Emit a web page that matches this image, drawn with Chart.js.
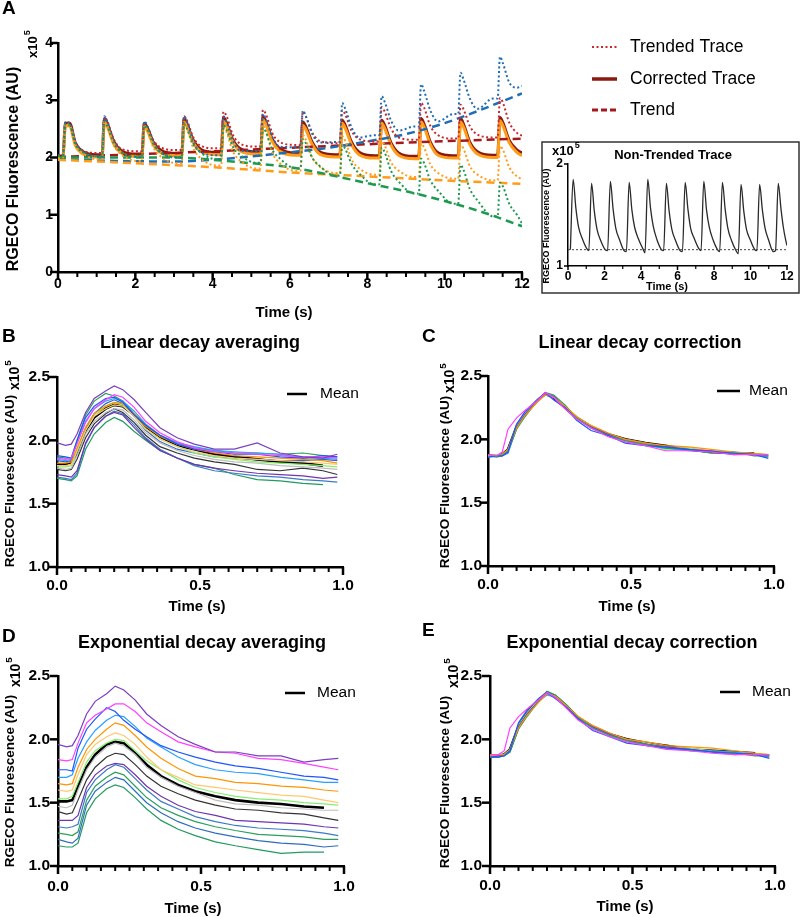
<!DOCTYPE html>
<html>
<head>
<meta charset="utf-8">
<script src="https://cdn.jsdelivr.net/npm/chart.js@4.4.1/dist/chart.umd.min.js"></script>
<style>
  html, body { margin: 0; padding: 0; background: #fff; }
  #fig { position: relative; width: 800px; height: 917px; overflow: hidden; }
  canvas { position: absolute; }
</style>
</head>
<body>
<div id="fig">
  <canvas id="chartA"></canvas>
  <canvas id="chartInset"></canvas>
  <canvas id="chartB"></canvas>
  <canvas id="chartC"></canvas>
  <canvas id="chartD"></canvas>
  <canvas id="chartE"></canvas>
</div>
<script>
// ---------- Panel A: 12 s recording, values x10^5 ----------
const timeA = [0.00,
  0.13,0.19,0.30,0.45,0.65,1.00,   1.14,1.20,1.28,1.44,1.64,2.04,
  2.17,2.23,2.31,2.47,2.67,3.07,   3.20,3.26,3.34,3.50,3.70,4.10,
  4.22,4.28,4.36,4.52,4.72,5.12,   5.24,5.30,5.38,5.54,5.74,6.14,
  6.27,6.33,6.41,6.57,6.77,7.17,   7.29,7.35,7.43,7.59,7.79,8.19,
  8.31,8.37,8.45,8.61,8.81,9.21,   9.33,9.39,9.47,9.63,9.83,10.23,
  10.35,10.41,10.49,10.65,10.85,11.25, 11.37,11.43,11.51,11.67,11.87,12.00];

const trendedBlue = [2.03,
  2.04,2.62,2.60,2.26,2.11,2.02, 2.02,2.72,2.62,2.29,2.10,2.01,
  2.01,2.63,2.55,2.25,2.08,2.00, 2.00,2.72,2.62,2.27,2.09,2.04,
  2.04,2.72,2.62,2.30,2.12,2.11, 2.11,2.76,2.66,2.36,2.19,2.18,
  2.18,2.82,2.72,2.42,2.26,2.27, 2.27,2.95,2.85,2.53,2.35,2.39,
  2.39,3.07,2.97,2.65,2.47,2.54, 2.54,3.28,3.16,2.82,2.63,2.76,
  2.76,3.48,3.36,3.03,2.85,3.03, 3.03,3.76,3.64,3.31,3.22,3.25];
const trendedRed = [2.04,
  2.05,2.62,2.60,2.27,2.12,2.08, 2.08,2.70,2.62,2.32,2.15,2.11,
  2.11,2.62,2.54,2.30,2.17,2.13, 2.13,2.72,2.64,2.35,2.20,2.16,
  2.16,2.80,2.72,2.40,2.24,2.19, 2.19,2.83,2.75,2.43,2.27,2.22,
  2.22,2.80,2.72,2.44,2.29,2.25, 2.25,2.83,2.75,2.47,2.32,2.28,
  2.28,2.88,2.80,2.51,2.35,2.31, 2.31,2.95,2.87,2.55,2.39,2.33,
  2.33,2.92,2.84,2.55,2.40,2.35, 2.35,3.04,2.95,2.61,2.43,2.38];
const trendedOrange = [1.99,
  2.00,2.58,2.56,2.22,2.07,1.97, 1.97,2.62,2.54,2.22,2.05,1.94,
  1.94,2.55,2.47,2.17,2.01,1.90, 1.90,2.58,2.50,2.16,1.98,1.86,
  1.86,2.52,2.44,2.11,1.94,1.81, 1.81,2.55,2.46,2.09,1.90,1.77,
  1.77,2.39,2.31,2.01,1.84,1.73, 1.73,2.37,2.29,1.97,1.81,1.70,
  1.70,2.28,2.21,1.92,1.77,1.66, 1.66,2.24,2.17,1.88,1.73,1.63,
  1.63,2.22,2.15,1.85,1.70,1.60, 1.60,2.20,2.13,1.83,1.67,1.62];
const trendedGreen = [2.02,
  2.02,2.58,2.56,2.23,2.09,2.02, 2.02,2.62,2.54,2.25,2.09,2.02,
  2.02,2.56,2.49,2.23,2.08,2.01, 2.01,2.58,2.50,2.23,2.08,1.97,
  1.97,2.56,2.48,2.19,2.04,1.91, 1.91,2.52,2.44,2.14,1.98,1.81,
  1.81,2.32,2.25,2.00,1.85,1.68, 1.68,2.22,2.15,1.89,1.72,1.53,
  1.53,2.17,2.09,1.77,1.58,1.37, 1.37,1.98,1.90,1.60,1.42,1.19,
  1.19,1.87,1.78,1.45,1.25,0.97, 0.97,1.56,1.49,1.19,1.00,0.85];
const correctedOrange = [1.98,
  1.99,2.56,2.55,2.21,2.06,2.01, 2.01,2.62,2.53,2.24,2.08,2.02,
  2.02,2.55,2.47,2.22,2.08,2.03, 2.03,2.62,2.53,2.26,2.10,2.05,
  2.05,2.63,2.55,2.27,2.11,2.06, 2.06,2.66,2.57,2.28,2.11,2.04,
  2.04,2.56,2.49,2.23,2.06,2.01, 2.01,2.60,2.51,2.23,2.05,1.99,
  1.99,2.60,2.51,2.22,2.04,1.98, 1.98,2.62,2.53,2.23,2.04,1.99,
  1.99,2.62,2.53,2.23,2.06,2.00, 2.00,2.64,2.55,2.26,2.09,2.03];
const correctedRed = [2.02,
  2.03,2.60,2.60,2.25,2.10,2.05, 2.05,2.68,2.58,2.28,2.12,2.06,
  2.06,2.60,2.52,2.26,2.12,2.07, 2.07,2.68,2.58,2.30,2.14,2.09,
  2.09,2.70,2.60,2.31,2.15,2.10, 2.10,2.72,2.62,2.32,2.15,2.08,
  2.08,2.62,2.54,2.27,2.10,2.05, 2.05,2.65,2.56,2.27,2.09,2.03,
  2.03,2.65,2.56,2.26,2.08,2.02, 2.02,2.68,2.58,2.27,2.08,2.03,
  2.03,2.68,2.58,2.27,2.10,2.04, 2.04,2.70,2.60,2.30,2.13,2.08];

const trendTimeRed = [0, 3, 6, 9, 12];
const trendRed = [2.01, 2.08, 2.17, 2.26, 2.33];
const trendTimeBlue = [0, 1.5, 3, 4, 5, 6, 7, 8, 9, 10, 11, 12];
const trendBlue = [1.97, 1.94, 1.93, 1.96, 2.02, 2.09, 2.17, 2.28, 2.41, 2.60, 2.85, 3.12];
const trendTimeOrange = [0, 2, 4, 6, 8, 10, 12];
const trendOrange = [1.96, 1.90, 1.83, 1.74, 1.67, 1.60, 1.54];
const trendTimeGreen = [0, 2, 3, 4, 5, 6, 7, 8, 9, 10, 11, 12];
const trendGreen = [2.00, 2.00, 2.00, 1.96, 1.90, 1.83, 1.70, 1.55, 1.41, 1.24, 1.04, 0.80];

// ---------- Inset: non-trended trace ----------
const timeInset = [0.00,
  0.13,0.28,0.43,0.58,0.78,1.03,  1.14,1.29,1.44,1.59,1.79,2.04,
  2.17,2.32,2.47,2.62,2.82,3.07,  3.20,3.35,3.50,3.65,3.85,4.10,
  4.22,4.37,4.52,4.67,4.87,5.12,  5.24,5.39,5.54,5.69,5.89,6.14,
  6.27,6.42,6.57,6.72,6.92,7.17,  7.29,7.44,7.59,7.74,7.94,8.19,
  8.31,8.46,8.61,8.76,8.96,9.21,  9.33,9.48,9.63,9.78,9.98,10.23,
  10.35,10.50,10.65,10.80,11.00,11.25, 11.37,11.52,11.67,11.80,11.92,12.00];
const nonTrended = [null,
  1.16,1.85,1.57,1.38,1.27,1.17, 1.15,1.81,1.54,1.36,1.25,1.16,
  1.15,1.83,1.56,1.37,1.26,1.15, 1.14,1.82,1.55,1.38,1.27,1.17,
  1.13,1.85,1.57,1.39,1.26,1.16, 1.15,1.81,1.54,1.36,1.25,1.15,
  1.14,1.82,1.56,1.37,1.27,1.17, 1.15,1.83,1.55,1.38,1.26,1.16,
  1.14,1.82,1.56,1.37,1.25,1.15, 1.12,1.80,1.54,1.36,1.26,1.16,
  1.15,1.80,1.55,1.37,1.25,1.14, 1.15,1.81,1.56,1.38,1.26,1.20];
const baselineTime = [0, 12];
const baselineInset = [1.16, 1.16];

// ---------- Panels B-E: single-pulse overlays (1 s) ----------
const timeP = [0, 0.03, 0.05, 0.07, 0.10, 0.13, 0.17, 0.20, 0.23, 0.27, 0.31,
               0.36, 0.42, 0.48, 0.55, 0.62, 0.70, 0.78, 0.86, 0.93, 0.98];

const linAvgTraces = [
  [1.98,1.96,1.97,2.05,2.22,2.33,2.39,2.43,2.40,2.32,2.22,2.10,2.02,1.97,1.93,1.93,1.98,1.90,1.87,1.86,1.89],
  [1.86,1.85,1.86,1.97,2.14,2.25,2.32,2.36,2.34,2.26,2.15,2.06,1.99,1.94,1.91,1.90,1.89,1.88,1.87,1.87,1.86],
  [1.88,1.87,1.86,2.00,2.18,2.27,2.33,2.34,2.30,2.20,2.12,2.04,1.97,1.93,1.91,1.89,1.89,1.87,1.86,1.88,1.87],
  [1.85,1.84,1.85,1.98,2.15,2.25,2.31,2.33,2.31,2.23,2.13,2.04,1.98,1.95,1.92,1.91,1.90,1.89,1.86,1.86,1.85],
  [1.82,1.82,1.83,1.94,2.10,2.21,2.27,2.30,2.29,2.21,2.11,2.03,1.97,1.93,1.90,1.88,1.87,1.86,1.85,1.84,1.82],
  [1.80,1.80,1.81,1.92,2.08,2.19,2.25,2.28,2.27,2.19,2.09,2.01,1.95,1.91,1.88,1.86,1.85,1.84,1.83,1.82,1.81],
  [1.79,1.79,1.80,1.91,2.08,2.19,2.27,2.30,2.28,2.19,2.09,2.01,1.95,1.90,1.87,1.85,1.83,1.82,1.81,1.80,1.79],
  [1.78,1.77,1.78,1.88,2.05,2.15,2.22,2.25,2.24,2.16,2.06,1.98,1.92,1.88,1.85,1.83,1.82,1.80,1.79,1.78,1.77],
  [1.87,1.86,1.86,2.00,2.20,2.31,2.37,2.35,2.31,2.21,2.12,2.04,1.98,1.94,1.92,1.90,1.90,1.89,1.90,1.88,1.87],
  [1.73,1.72,1.71,1.76,1.98,2.10,2.19,2.22,2.20,2.10,2.01,1.92,1.86,1.81,1.78,1.76,1.74,1.73,1.72,1.70,1.71],
  [1.71,1.70,1.69,1.74,1.97,2.10,2.19,2.23,2.21,2.12,2.02,1.93,1.86,1.80,1.76,1.74,1.72,1.71,1.69,1.68,1.67],
  [1.70,1.69,1.68,1.72,1.93,2.05,2.14,2.18,2.15,2.07,2.00,1.92,1.86,1.81,1.78,1.73,1.69,1.68,1.66,1.65,null],
  [1.84,1.83,1.84,1.92,2.10,2.21,2.29,2.32,2.29,2.19,2.08,1.99,1.93,1.90,1.87,1.86,1.85,1.84,1.84,1.85,1.84],
  [1.77,1.76,1.77,1.85,2.02,2.13,2.21,2.25,2.22,2.14,2.04,1.95,1.90,1.86,1.83,1.81,1.77,1.76,1.78,1.76,1.73]
];
const linAvgMean = [1.81,1.81,1.83,1.90,2.08,2.18,2.25,2.28,2.27,2.20,2.11,2.03,1.96,1.93,1.89,1.87,1.85,1.83,1.82,1.80,null];

const linCorrTraces = [
  [1.88,1.87,1.90,2.08,2.17,2.23,2.30,2.37,2.33,2.24,2.16,2.09,2.02,1.98,1.95,1.91,1.91,1.90,1.88,1.88,1.88],
  [1.86,1.87,1.87,1.90,2.12,2.22,2.31,2.37,2.31,2.25,2.15,2.07,2.03,1.97,1.95,1.94,1.92,1.90,1.89,1.88,1.85],
  [1.87,1.87,1.88,1.92,2.09,2.19,2.29,2.35,2.33,2.26,2.18,2.11,2.05,2.00,1.97,1.95,1.94,1.92,1.90,1.89,1.88],
  [1.87,1.86,1.87,1.91,2.08,2.18,2.30,2.37,2.35,2.27,2.17,2.09,2.03,1.99,1.96,1.93,1.92,1.89,1.90,1.87,1.87],
  [1.87,1.87,1.88,1.92,2.10,2.20,2.30,2.36,2.34,2.25,2.16,2.10,2.04,2.00,1.97,1.94,1.92,1.91,1.88,1.89,1.87],
  [1.86,1.87,1.87,1.89,2.09,2.20,2.30,2.35,2.33,2.25,2.17,2.09,2.04,1.99,1.95,1.93,1.91,1.91,1.90,1.88,1.86],
  [1.87,1.88,1.88,1.92,2.11,2.21,2.31,2.36,2.34,2.26,2.17,2.10,2.04,1.98,1.96,1.92,1.93,1.90,1.89,1.88,1.88],
  [1.87,1.87,1.88,1.91,2.10,2.20,2.30,2.36,2.34,2.26,2.17,2.10,2.04,2.00,1.97,1.94,1.93,1.91,1.90,1.89,1.88]
];
const linCorrMean = [1.87,1.87,1.88,1.92,2.10,2.20,2.30,2.36,2.33,2.25,2.17,2.10,2.04,2.00,1.97,1.95,1.92,1.90,1.89,1.89,null];

const expAvgTraces = [
  [1.96,1.94,1.95,2.03,2.20,2.30,2.36,2.42,2.39,2.31,2.20,2.11,2.02,1.96,1.90,1.90,1.87,1.87,1.82,1.84,1.85],
  [1.84,1.83,1.84,1.97,2.13,2.19,2.24,2.28,2.28,2.22,2.13,2.06,1.98,1.94,1.90,1.89,1.85,1.84,1.81,1.78,1.76],
  [1.76,1.76,1.75,1.93,2.08,2.16,2.25,2.22,2.15,2.08,2.02,1.95,1.90,1.86,1.82,1.79,1.77,1.74,1.71,1.70,1.68],
  [1.70,1.70,1.72,1.85,1.98,2.07,2.15,2.19,2.18,2.10,2.01,1.94,1.86,1.80,1.76,1.74,1.73,1.70,1.68,1.66,1.66],
  [1.65,1.64,1.65,1.78,1.92,2.00,2.08,2.13,2.11,2.03,1.94,1.85,1.77,1.71,1.69,1.66,1.65,1.63,1.62,1.60,1.59],
  [1.60,1.59,1.60,1.72,1.88,1.96,2.02,2.05,2.03,1.96,1.86,1.76,1.70,1.64,1.62,1.60,1.58,1.56,1.55,1.52,1.50],
  [1.53,1.53,1.55,1.66,1.82,1.91,1.97,2.00,1.99,1.91,1.83,1.76,1.68,1.62,1.58,1.55,1.53,1.52,1.50,1.49,1.48],
  [1.47,1.46,1.48,1.60,1.76,1.86,1.94,1.97,1.95,1.88,1.78,1.70,1.63,1.58,1.52,1.49,1.48,1.46,1.45,1.44,1.44],
  [1.43,1.41,1.42,1.52,1.68,1.78,1.86,1.89,1.88,1.80,1.71,1.63,1.57,1.52,1.48,1.45,1.44,1.42,1.41,1.38,1.36],
  [1.36,1.36,1.36,1.40,1.62,1.72,1.79,1.81,1.80,1.72,1.63,1.55,1.48,1.43,1.40,1.36,1.35,1.34,1.33,1.31,1.30],
  [1.31,1.30,1.31,1.33,1.58,1.68,1.76,1.80,1.78,1.69,1.60,1.51,1.45,1.39,1.35,1.32,1.30,1.29,1.28,1.26,1.24],
  [1.26,1.25,1.24,1.27,1.52,1.63,1.70,1.74,1.72,1.63,1.54,1.46,1.40,1.35,1.31,1.28,1.25,1.24,1.23,1.21,1.21],
  [1.21,1.19,1.18,1.22,1.48,1.59,1.66,1.70,1.68,1.59,1.50,1.42,1.35,1.30,1.26,1.23,1.20,1.18,1.17,1.15,1.16],
  [1.16,1.15,1.15,1.18,1.42,1.53,1.61,1.64,1.62,1.54,1.45,1.36,1.29,1.24,1.19,1.16,1.13,1.10,1.11,1.11,null]
];
const expAvgMean = [1.51,1.51,1.52,1.63,1.78,1.88,1.96,1.98,1.97,1.89,1.80,1.71,1.64,1.59,1.55,1.52,1.50,1.49,1.47,1.46,null];

const expCorrTraces = [
  [1.88,1.88,1.91,2.09,2.18,2.24,2.31,2.37,2.33,2.24,2.15,2.08,2.02,1.98,1.95,1.92,1.91,1.89,1.88,1.88,1.88],
  [1.86,1.86,1.87,1.91,2.13,2.23,2.32,2.37,2.32,2.25,2.16,2.07,2.02,1.97,1.95,1.93,1.92,1.90,1.89,1.88,1.85],
  [1.87,1.88,1.88,1.92,2.09,2.19,2.29,2.36,2.34,2.26,2.18,2.11,2.05,2.00,1.98,1.95,1.94,1.93,1.91,1.89,1.88],
  [1.86,1.86,1.87,1.90,2.08,2.18,2.30,2.38,2.35,2.27,2.17,2.09,2.03,1.99,1.96,1.93,1.91,1.90,1.89,1.87,1.87],
  [1.87,1.87,1.88,1.92,2.10,2.20,2.30,2.36,2.34,2.25,2.16,2.10,2.04,2.00,1.96,1.94,1.92,1.90,1.88,1.89,1.87],
  [1.87,1.87,1.87,1.90,2.10,2.20,2.30,2.35,2.33,2.26,2.17,2.09,2.04,1.99,1.95,1.94,1.91,1.91,1.90,1.88,1.86],
  [1.87,1.88,1.88,1.92,2.11,2.21,2.31,2.37,2.34,2.26,2.16,2.10,2.03,1.98,1.96,1.92,1.93,1.90,1.89,1.88,1.88],
  [1.88,1.87,1.88,1.91,2.10,2.20,2.30,2.36,2.34,2.26,2.17,2.10,2.04,2.00,1.97,1.94,1.93,1.91,1.90,1.89,1.88]
];
const expCorrMean = [1.87,1.87,1.88,1.92,2.10,2.21,2.31,2.37,2.34,2.26,2.17,2.10,2.04,2.00,1.97,1.95,1.92,1.91,1.90,1.89,null];

const majorTicksA = [0, 2, 4, 6, 8, 10, 12];
const majorTicksP = [0, 0.5, 1.0];

// colours
const avgColors = ['#7b3fbf','#ff40ff','#1f55ff','#27a0ff','#ff9500','#ffc870','#86ee6e','#bdbdbd',
                   '#2aa05c','#6f35b0','#3a7cc4','#239a62','#2f66d0','#333333'];
const expColors = ['#7b3fbf','#ff40ff','#1f55ff','#27a0ff','#ff9500','#ffc870','#86ee6e','#bdbdbd',
                   '#333333','#6f35b0','#3a7cc4','#2aa05c','#2f6cc0','#239a62'];
const corrColors = ['#ff40ff','#1f55ff','#ff9500','#2aa05c','#7b3fbf','#27a0ff','#86ee6e','#bdbdbd'];

const FONT = "'Liberation Sans', Arial, Helvetica, sans-serif";
Chart.defaults.font.family = FONT;
Chart.defaults.color = '#000';

const pts = (xs, ys) => xs.map((x, i) => ({ x: x, y: ys[i] }));
function line(label, xs, ys, color, width, dash, smooth) {
  const ds = { label: label, data: pts(xs, ys), borderColor: color, borderWidth: width,
               borderDash: dash || [], pointRadius: 0, fill: false, tension: 0, spanGaps: false };
  if (smooth) { ds.cubicInterpolationMode = 'monotone'; }
  return ds;
}
const isMajor = (list, v) => list.some(m => Math.abs(m - v) < 1e-6);

// frame, tick marks, free text (letters, titles, axis titles, x10^5) and line keys, in page coordinates
const panelDecor = {
  id: 'panelDecor',
  beforeDraw(chart) {
    const o = chart.$panel, ctx = chart.ctx;
    if (o && o.frame) {
      ctx.save();
      ctx.fillStyle = '#fff';
      ctx.fillRect(0, 0, chart.width, chart.height);
      ctx.strokeStyle = '#333'; ctx.lineWidth = 1.5;
      ctx.strokeRect(o.frame[0] - o.ox, o.frame[1] - o.oy, o.frame[2] - o.frame[0], o.frame[3] - o.frame[1]);
      ctx.restore();
    }
  },
  afterDraw(chart) {
    const o = chart.$panel, ctx = chart.ctx, a = chart.chartArea;
    if (!o) return;
    const sx = chart.scales.x, sy = chart.scales.y;

    ctx.save();
    ctx.strokeStyle = '#000';
    ctx.lineCap = 'butt';
    sx.ticks.forEach(t => {
      const px = sx.getPixelForValue(t.value);
      const big = t.label !== '' && t.label != null;
      ctx.lineWidth = big ? o.axisW : o.axisW * 0.8;
      ctx.beginPath(); ctx.moveTo(px, a.bottom); ctx.lineTo(px, a.bottom + (big ? o.tickL : o.tickS)); ctx.stroke();
    });
    sy.ticks.forEach(t => {
      const py = sy.getPixelForValue(t.value);
      ctx.lineWidth = o.axisW;
      ctx.beginPath(); ctx.moveTo(a.left - o.tickL, py); ctx.lineTo(a.left, py); ctx.stroke();
    });
    ctx.restore();

    (o.texts || []).forEach(it => {
      ctx.save();
      ctx.translate(it.x - o.ox, it.y - o.oy);
      if (it.rot) ctx.rotate(-Math.PI / 2);
      ctx.fillStyle = '#000';
      ctx.font = it.font + ' ' + FONT;
      ctx.textAlign = it.align || 'center';
      ctx.textBaseline = 'middle';
      ctx.fillText(it.t, 0, 0);
      if (it.sup) {
        const w = ctx.measureText(it.t).width;
        const size = parseFloat(it.font.replace(/[^0-9.]/g, ''));
        ctx.font = 'bold ' + (size * 0.7).toFixed(1) + 'px ' + FONT;
        ctx.textAlign = 'left';
        ctx.fillText(it.sup, w + 1, -size * 0.45);
      }
      ctx.restore();
    });

    (o.keys || []).forEach(k => {
      const ds = chart.data.datasets[k.ds];
      ctx.save();
      ctx.strokeStyle = ds.borderColor;
      ctx.lineWidth = k.w || ds.borderWidth;
      ctx.setLineDash(k.dash || ds.borderDash || []);
      ctx.beginPath();
      ctx.moveTo(k.x1 - o.ox, k.y - o.oy); ctx.lineTo(k.x2 - o.ox, k.y - o.oy);
      ctx.stroke();
      ctx.setLineDash([]);
      ctx.fillStyle = '#000';
      ctx.font = k.font + ' ' + FONT;
      ctx.textAlign = 'left'; ctx.textBaseline = 'middle';
      ctx.fillText(ds.label, k.tx - o.ox, k.y - o.oy);
      ctx.restore();
    });
  }
};

function makePanel(p) {
  const cv = document.getElementById(p.id);
  cv.width = p.w; cv.height = p.h;
  cv.style.left = p.ox + 'px'; cv.style.top = p.oy + 'px';
  const a = p.area;
  return new Chart(cv, {
    type: 'line',
    data: { datasets: p.datasets },
    options: {
      responsive: false,
      animation: false,
      events: [],
      layout: { padding: { left: 0, top: a.t - p.oy, right: p.ox + p.w - a.r, bottom: 0 } },
      plugins: { legend: { display: false }, tooltip: { enabled: false } },
      scales: {
        x: {
          type: 'linear', min: p.x.min, max: p.x.max,
          afterFit: s => { s.height = p.oy + p.h - a.b; },
          grid: { display: false, drawTicks: false },
          border: { display: true, color: '#000', width: p.axisW },
          ticks: { stepSize: p.x.step, autoSkip: false, maxRotation: 0, maxTicksLimit: 1000,
                   padding: p.x.pad, color: '#000', font: { size: p.tickFont, weight: 'bold' },
                   callback: p.x.label }
        },
        y: {
          type: 'linear', min: p.y.min, max: p.y.max,
          afterFit: s => { s.width = a.l - p.ox; },
          grid: { display: false, drawTicks: false },
          border: { display: true, color: '#000', width: p.axisW },
          ticks: { stepSize: p.y.step, autoSkip: false, padding: p.y.pad, color: '#000',
                   font: { size: p.tickFont, weight: 'bold' }, callback: p.y.label }
        }
      }
    },
    plugins: [{ id: 'panelCfg', beforeInit(c) { c.$panel = p; } }, panelDecor]
  });
}

// ---------- Panel A ----------
const dotted = [2, 2.5], dashed = [8, 5];
makePanel({
  id: 'chartA', ox: 0, oy: 0, w: 800, h: 325,
  area: { l: 58, t: 43, r: 522, b: 272 },
  axisW: 2.5, tickL: 8, tickS: 5, tickFont: 14,
  x: { min: 0, max: 12, step: 0.5, pad: 4, label: v => isMajor(majorTicksA, v) ? String(Math.round(v)) : '' },
  y: { min: 0, max: 4, step: 1, pad: 5, label: v => String(v) },
  datasets: [
    line('Trended Trace (green)', timeA, trendedGreen, '#1e9a50', 2, dotted, true),
    line('Trended Trace (orange)', timeA, trendedOrange, '#ff9c1a', 2, dotted, true),
    line('Trended Trace (blue)', timeA, trendedBlue, '#1f6db5', 2, dotted, true),
    line('Trended Trace', timeA, trendedRed, '#c8282d', 2, dotted, true),
    line('Trend (green)', trendTimeGreen, trendGreen, '#1e9a50', 2.5, dashed, true),
    line('Trend (orange)', trendTimeOrange, trendOrange, '#ff9c1a', 2.5, dashed, true),
    line('Trend (blue)', trendTimeBlue, trendBlue, '#1f6db5', 2.5, dashed, true),
    line('Trend', trendTimeRed, trendRed, '#a3181b', 2.5, dashed, true),
    line('Corrected Trace (orange)', timeA, correctedOrange, '#ff9c1a', 3, [], true),
    line('Corrected Trace', timeA, correctedRed, '#8b1a0e', 3, [], true)
  ],
  texts: [
    { t: 'A', x: 2, y: 9, font: 'bold 19px', align: 'left' },
    { t: 'x10', sup: '5', x: 33, y: 58, rot: true, font: 'bold 13px', align: 'left' },
    { t: 'RGECO Fluorescence (AU)', x: 14, y: 169, rot: true, font: 'bold 16px' },
    { t: 'Time (s)', x: 284, y: 313, font: 'bold 15px' }
  ],
  keys: [
    { ds: 3, x1: 592, x2: 617, y: 47, tx: 630, font: '17.5px', w: 2, dash: [2, 2.5] },
    { ds: 9, x1: 592, x2: 617, y: 79, tx: 630, font: '17.5px', w: 3.5 },
    { ds: 7, x1: 592, x2: 617, y: 110, tx: 630, font: '17.5px', w: 3, dash: [6, 3] }
  ]
});

// ---------- Inset ----------
makePanel({
  id: 'chartInset', ox: 540, oy: 140, w: 260, h: 155,
  area: { l: 568, t: 164, r: 787, b: 266 },
  axisW: 1.5, tickL: 4, tickS: 3, tickFont: 12,
  frame: [542, 142, 799, 293],
  x: { min: 0, max: 12, step: 1, pad: 3, label: v => isMajor(majorTicksA, v) ? String(Math.round(v)) : '' },
  y: { min: 1, max: 2, step: 1, pad: 5, label: v => String(v) },
  datasets: [
    line('Baseline', baselineTime, baselineInset, '#444', 1, [2, 2]),
    line('Non-Trended Trace', timeInset, nonTrended, '#2a2a2a', 1.3, [], true)
  ],
  texts: [
    { t: 'Non-Trended Trace', x: 673, y: 155, font: 'bold 13px' },
    { t: 'x10', sup: '5', x: 552, y: 151, font: 'bold 13px', align: 'left' },
    { t: 'RGECO Fluorescence (AU)', x: 547, y: 226, rot: true, font: 'bold 9px' },
    { t: 'Time (s)', x: 667, y: 287, font: 'bold 11px' }
  ]
});

// ---------- Panels B-E ----------
function pulsePanel(id, ox, oy, h, area, traces, colors, mean, letter, title, pos) {
  const ds = traces.map((tr, i) => line('trace ' + (i + 1), timeP, tr, colors[i], 1.2, []));
  ds.push(line('Mean', timeP, mean, '#000', 2.6, []));
  return makePanel({
    id: id, ox: ox, oy: oy, w: 400, h: h, area: area,
    axisW: 2.5, tickL: 8, tickS: 5, tickFont: 15.5,
    x: { min: 0, max: 1, step: 0.05, pad: pos.xpad, label: v => isMajor(majorTicksP, v) ? v.toFixed(1) : '' },
    y: { min: 1, max: 2.5, step: 0.5, pad: pos.ypad, label: v => v.toFixed(1) },
    datasets: ds,
    texts: [
      { t: letter, x: pos.letter[0], y: pos.letter[1], font: 'bold 19px', align: 'left' },
      { t: title, x: pos.title[0], y: pos.title[1], font: 'bold 18px' },
      { t: 'x10', sup: '5', x: pos.exp[0], y: pos.exp[1], rot: true, font: 'bold 14px', align: 'left' },
      { t: 'RGECO Fluorescence (AU)', x: pos.ytitle[0], y: pos.ytitle[1], rot: true, font: 'bold 13.5px' },
      { t: 'Time (s)', x: pos.xtitle[0], y: pos.xtitle[1], font: 'bold 15px' }
    ],
    keys: [{ ds: ds.length - 1, x1: pos.key[0], x2: pos.key[1], y: pos.key[2], tx: pos.key[3], font: '15.5px', w: 2.5 }]
  });
}

pulsePanel('chartB', 0, 325, 295, { l: 57, t: 377, r: 343, b: 567 }, linAvgTraces, avgColors, linAvgMean,
  'B', 'Linear decay averaging',
  { xpad: 9, ypad: 7, letter: [2, 337], title: [200, 343], exp: [15, 390], ytitle: [10, 481],
    xtitle: [197, 607], key: [287, 307, 394, 320] });

pulsePanel('chartC', 400, 325, 295, { l: 488, t: 376, r: 774, b: 566 }, linCorrTraces, corrColors, linCorrMean,
  'C', 'Linear decay correction',
  { xpad: 9, ypad: 6, letter: [422, 337], title: [640, 343], exp: [450, 393], ytitle: [445, 482],
    xtitle: [627, 607], key: [717, 740, 391, 749] });

pulsePanel('chartD', 0, 620, 297, { l: 58, t: 676, r: 344, b: 866 }, expAvgTraces, expColors, expAvgMean,
  'D', 'Exponential decay averaging',
  { xpad: 11, ypad: 8, letter: [2, 637], title: [202, 643], exp: [16, 687], ytitle: [10, 781],
    xtitle: [193, 909], key: [285, 305, 693, 317] });

pulsePanel('chartE', 400, 620, 297, { l: 490, t: 676, r: 775, b: 866 }, expCorrTraces, corrColors, expCorrMean,
  'E', 'Exponential decay correction',
  { xpad: 10, ypad: 8, letter: [422, 631], title: [632, 643], exp: [454, 688], ytitle: [445, 782],
    xtitle: [625, 907], key: [720, 740, 692, 752] });
</script>
</body>
</html>
